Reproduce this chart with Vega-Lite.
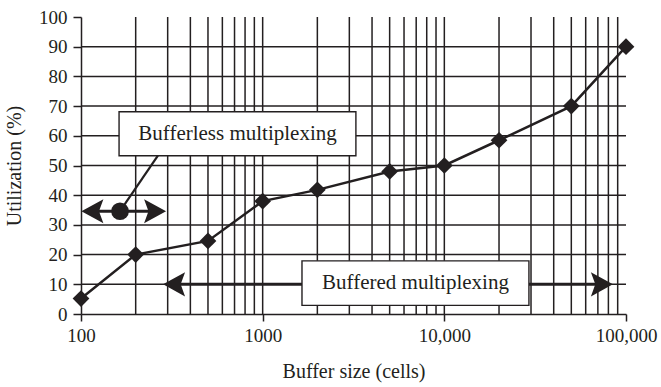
{
  "$schema": "https://vega.github.io/schema/vega-lite/v6.json",
  "width": 545,
  "height": 297,
  "autosize": "none",
  "padding": {"left": 81, "top": 17, "right": 35, "bottom": 73},
  "background": "white",
  "config": {
    "view": {"stroke": null},
    "font": "Liberation Serif",
    "axis": {
      "grid": false, "domainColor": "#231f20", "domainWidth": 1.5,
      "tickColor": "#231f20", "tickWidth": 1.5,
      "labelFont": "Liberation Serif", "labelFontSize": 19, "labelColor": "#231f20",
      "labelOverlap": false, "labelFlush": false,
      "titleFont": "Liberation Serif", "titleFontSize": 20, "titleFontWeight": "normal", "titleColor": "#231f20"
    },
    "axisX": {
      "tickSize": 7, "labelPadding": 5, "titleY": 57, "titleBaseline": "middle"
    },
    "axisY": {
      "tickSize": 8, "labelPadding": 6,
      "titleX": -67, "titleY": 148.5, "titleAngle": -90, "titleAlign": "center", "titleBaseline": "middle"
    }
  },
  "layer": [
    {
      "data": {"values": [
        {"gx": 200}, {"gx": 300}, {"gx": 400}, {"gx": 500}, {"gx": 600}, {"gx": 700}, {"gx": 800}, {"gx": 900}, {"gx": 1000},
        {"gx": 2000}, {"gx": 3000}, {"gx": 4000}, {"gx": 5000}, {"gx": 6000}, {"gx": 7000}, {"gx": 8000}, {"gx": 9000}, {"gx": 10000},
        {"gx": 20000}, {"gx": 30000}, {"gx": 40000}, {"gx": 50000}, {"gx": 60000}, {"gx": 70000}, {"gx": 80000}, {"gx": 90000}
      ]},
      "mark": {"type": "rule", "color": "#231f20", "strokeWidth": 1.5},
      "encoding": {
        "x": {"field": "gx", "type": "quantitative", "scale": {"type": "log", "domain": [100, 100000]}, "title": "Buffer size (cells)",
          "axis": {"values": [100, 1000, 10000, 100000], "labelExpr": "datum.value == 1000 ? '1000' : format(datum.value, ',')"}}
      }
    },
    {
      "data": {"values": [
        {"gy": 10}, {"gy": 20}, {"gy": 30}, {"gy": 40}, {"gy": 50}, {"gy": 60}, {"gy": 70}, {"gy": 80}, {"gy": 90}
      ]},
      "mark": {"type": "rule", "color": "#231f20", "strokeWidth": 1.5},
      "encoding": {
        "y": {"field": "gy", "type": "quantitative", "scale": {"domain": [0, 100]}, "title": "Utilization (%)",
          "axis": {"values": [0, 10, 20, 30, 40, 50, 60, 70, 80, 90, 100]}}
      }
    },
    {
      "data": {"values": [
        {"x": 100, "y": 5.2}, {"x": 200, "y": 20}, {"x": 500, "y": 24.6}, {"x": 1000, "y": 38},
        {"x": 2000, "y": 41.8}, {"x": 5000, "y": 48}, {"x": 10000, "y": 50}, {"x": 20000, "y": 58.5},
        {"x": 50000, "y": 70}, {"x": 100000, "y": 90}
      ]},
      "encoding": {
        "x": {"field": "x", "type": "quantitative", "scale": {"type": "log", "domain": [100, 100000]}, "title": "Buffer size (cells)",
          "axis": {"values": [100, 1000, 10000, 100000], "labelExpr": "datum.value == 1000 ? '1000' : format(datum.value, ',')"}},
        "y": {"field": "y", "type": "quantitative", "scale": {"domain": [0, 100]}, "title": "Utilization (%)",
          "axis": {"values": [0, 10, 20, 30, 40, 50, 60, 70, 80, 90, 100]}}
      },
      "layer": [
        {"mark": {"type": "line", "color": "#231f20", "strokeWidth": 2.5}},
        {"mark": {"type": "point", "shape": "diamond", "filled": true, "opacity": 1, "color": "#231f20", "size": 280}}
      ]
    },
    {
      "data": {"values": [{"x": 164, "y": 34.6, "x2": 265, "y2": 53.3}]},
      "mark": {"type": "rule", "color": "#231f20", "strokeWidth": 2.2},
      "encoding": {
        "x": {"field": "x", "type": "quantitative", "title": "Buffer size (cells)",
          "axis": {"values": [100, 1000, 10000, 100000], "labelExpr": "datum.value == 1000 ? '1000' : format(datum.value, ',')"}},
        "y": {"field": "y", "type": "quantitative", "title": "Utilization (%)",
          "axis": {"values": [0, 10, 20, 30, 40, 50, 60, 70, 80, 90, 100]}},
        "x2": {"field": "x2"}, "y2": {"field": "y2"}
      }
    },
    {
      "data": {"values": [
        {"x": 110, "x2": 270, "y": 34.6},
        {"x": 300, "x2": 80000, "y": 10}
      ]},
      "mark": {"type": "rule", "color": "#231f20", "strokeWidth": 3},
      "encoding": {
        "x": {"field": "x", "type": "quantitative", "title": "Buffer size (cells)",
          "axis": {"values": [100, 1000, 10000, 100000], "labelExpr": "datum.value == 1000 ? '1000' : format(datum.value, ',')"}},
        "y": {"field": "y", "type": "quantitative", "title": "Utilization (%)",
          "axis": {"values": [0, 10, 20, 30, 40, 50, 60, 70, 80, 90, 100]}},
        "x2": {"field": "x2"}
      }
    },
    {
      "data": {"values": [
        {"x": 162, "x2": 3260, "y": 53.3, "y2": 68.1},
        {"x": 1646, "x2": 29220, "y": 2.9, "y2": 17.9}
      ]},
      "mark": {"type": "rect", "fill": "white", "stroke": "#231f20", "strokeWidth": 1.4},
      "encoding": {
        "x": {"field": "x", "type": "quantitative", "title": "Buffer size (cells)",
          "axis": {"values": [100, 1000, 10000, 100000], "labelExpr": "datum.value == 1000 ? '1000' : format(datum.value, ',')"}},
        "y": {"field": "y", "type": "quantitative", "title": "Utilization (%)",
          "axis": {"values": [0, 10, 20, 30, 40, 50, 60, 70, 80, 90, 100]}},
        "x2": {"field": "x2"}, "y2": {"field": "y2"}
      }
    },
    {
      "data": {"values": [
        {"x": 727, "y": 60.7, "label": "Bufferless multiplexing"},
        {"x": 6935, "y": 10.4, "label": "Buffered multiplexing"}
      ]},
      "mark": {"type": "text", "font": "Liberation Serif", "fontSize": 21, "color": "#231f20", "align": "center", "baseline": "middle"},
      "encoding": {
        "x": {"field": "x", "type": "quantitative", "title": "Buffer size (cells)",
          "axis": {"values": [100, 1000, 10000, 100000], "labelExpr": "datum.value == 1000 ? '1000' : format(datum.value, ',')"}},
        "y": {"field": "y", "type": "quantitative", "title": "Utilization (%)",
          "axis": {"values": [0, 10, 20, 30, 40, 50, 60, 70, 80, 90, 100]}},
        "text": {"field": "label"}
      }
    },
    {
      "data": {"values": [{"x": 100.5, "y": 34.6}, {"x": 283, "y": 10}]},
      "mark": {"type": "point", "shape": "M0,0L2,-1.1L1.6,0L2,1.1Z", "filled": true, "opacity": 1, "color": "#231f20", "size": 484},
      "encoding": {
        "x": {"field": "x", "type": "quantitative", "title": "Buffer size (cells)",
          "axis": {"values": [100, 1000, 10000, 100000], "labelExpr": "datum.value == 1000 ? '1000' : format(datum.value, ',')"}},
        "y": {"field": "y", "type": "quantitative", "title": "Utilization (%)",
          "axis": {"values": [0, 10, 20, 30, 40, 50, 60, 70, 80, 90, 100]}}
      }
    },
    {
      "data": {"values": [{"x": 294, "y": 34.6}, {"x": 84700, "y": 10}]},
      "mark": {"type": "point", "shape": "M0,0L-2,-1.1L-1.6,0L-2,1.1Z", "filled": true, "opacity": 1, "color": "#231f20", "size": 484},
      "encoding": {
        "x": {"field": "x", "type": "quantitative", "title": "Buffer size (cells)",
          "axis": {"values": [100, 1000, 10000, 100000], "labelExpr": "datum.value == 1000 ? '1000' : format(datum.value, ',')"}},
        "y": {"field": "y", "type": "quantitative", "title": "Utilization (%)",
          "axis": {"values": [0, 10, 20, 30, 40, 50, 60, 70, 80, 90, 100]}}
      }
    },
    {
      "data": {"values": [{"x": 164, "y": 34.6}]},
      "mark": {"type": "point", "shape": "circle", "filled": true, "opacity": 1, "color": "#231f20", "size": 314},
      "encoding": {
        "x": {"field": "x", "type": "quantitative", "title": "Buffer size (cells)",
          "axis": {"values": [100, 1000, 10000, 100000], "labelExpr": "datum.value == 1000 ? '1000' : format(datum.value, ',')"}},
        "y": {"field": "y", "type": "quantitative", "title": "Utilization (%)",
          "axis": {"values": [0, 10, 20, 30, 40, 50, 60, 70, 80, 90, 100]}}
      }
    }
  ]
}
